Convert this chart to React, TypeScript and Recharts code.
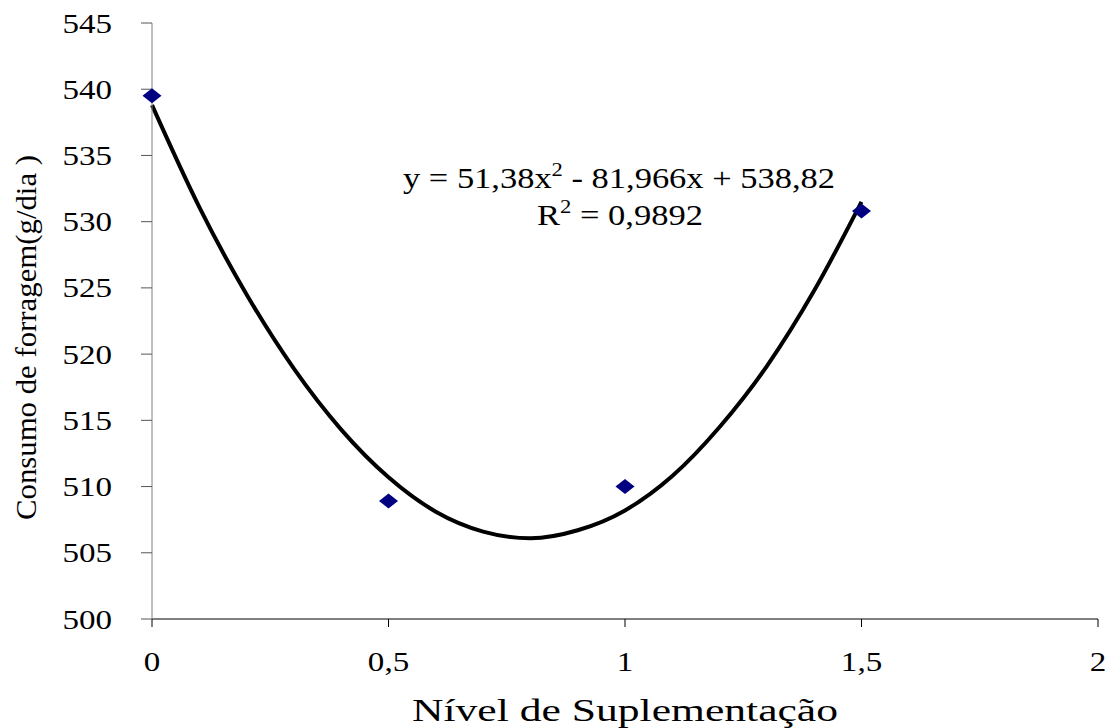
import {
  ComposedChart,
  Line,
  Scatter,
  XAxis,
  YAxis,
  Customized,
} from "recharts";

// observed points
const levels = [0, 0.5, 1, 1.5];
const consumo = [539.5, 508.9, 510.0, 530.8];

// trend line, every 0.1
const trendX = [0, 0.1, 0.2, 0.3, 0.4, 0.5, 0.6, 0.7, 0.8, 0.9, 1.0, 1.1, 1.2, 1.3, 1.4, 1.5];
const trendY = [538.8, 531.1, 524.5, 518.9, 514.3, 510.7, 508.1, 506.6, 506.1, 506.7, 508.2, 510.8, 514.5, 519.1, 524.8, 531.5];

const xTicks = [0, 0.5, 1, 1.5, 2];
const yTicks = [500, 505, 510, 515, 520, 525, 530, 535, 540, 545];

const pointData = levels.map((x, i) => ({ x, y: consumo[i] }));
const trendData = trendX.map((x, i) => ({ x, y: trendY[i] }));

const font = "Liberation Serif, Times New Roman, serif";

const Diamond = (props: any) => {
  const { cx, cy } = props;
  if (cx == null || cy == null) return null;
  return (
    <polygon
      points={`${cx - 9.5},${cy} ${cx},${cy - 7.5} ${cx + 9.5},${cy} ${cx},${cy + 7.5}`}
      fill="#000080"
    />
  );
};

const XTick = (props: any) => {
  const { x, y, payload } = props;
  return (
    <g transform={`translate(${x},${y}) scale(1.18,1)`}>
      <text x={0} y={0} dy={20} textAnchor="middle" fontFamily={font} fontSize={28} fill="#000">
        {String(payload.value).replace(".", ",")}
      </text>
    </g>
  );
};

const YTick = (props: any) => {
  const { x, y, payload } = props;
  return (
    <g transform={`translate(${x},${y}) scale(1.18,1)`}>
      <text x={0} y={0} dy={9.5} textAnchor="end" fontFamily={font} fontSize={28} fill="#000">
        {payload.value}
      </text>
    </g>
  );
};

const Annotations = () => (
  <g fontFamily={font} fill="#000">
    <text x={403} y={188} fontSize={29} textLength={432} lengthAdjust="spacingAndGlyphs">
      y = 51,38x<tspan dy={-12} fontSize={19}>2</tspan>
      <tspan dy={12}> - 81,966x + 538,82</tspan>
    </text>
    <text x={537} y={225} fontSize={29} textLength={166} lengthAdjust="spacingAndGlyphs">
      R<tspan dy={-12} fontSize={19}>2</tspan>
      <tspan dy={12}> = 0,9892</tspan>
    </text>
    <text x={412} y={721} fontSize={32} textLength={426} lengthAdjust="spacingAndGlyphs">
      Nível de Suplementação
    </text>
    <text
      x={36}
      y={520}
      fontSize={29}
      transform="rotate(-90 36 520)"
      textLength={365}
      lengthAdjust="spacingAndGlyphs"
    >
      Consumo de forragem(g/dia )
    </text>
  </g>
);

export default function App() {
  return (
    <div style={{ position: "absolute", left: 0, top: 0, background: "#fff" }}>
      <ComposedChart
        width={1112}
        height={728}
        margin={{ top: 23, right: 14, left: 0, bottom: 49 }}
      >
        <XAxis
          type="number"
          dataKey="x"
          domain={[0, 2]}
          ticks={xTicks}
          height={60}
          tickSize={8}
          tickMargin={24}
          stroke="#000"
          tick={<XTick />}
        />
        <YAxis
          type="number"
          domain={[500, 545]}
          ticks={yTicks}
          width={152}
          tickSize={11}
          tickMargin={29}
          axisLine={{ stroke: "#808080" }}
          tickLine={{ stroke: "#555" }}
          tick={<YTick />}
        />
        <Line
          data={trendData}
          dataKey="y"
          type="monotone"
          stroke="#000"
          strokeWidth={4}
          dot={false}
          activeDot={false}
          isAnimationActive={false}
        />
        <Scatter
          data={pointData}
          dataKey="y"
          shape={Diamond}
          isAnimationActive={false}
        />
        <Customized component={Annotations} />
      </ComposedChart>
    </div>
  );
}
